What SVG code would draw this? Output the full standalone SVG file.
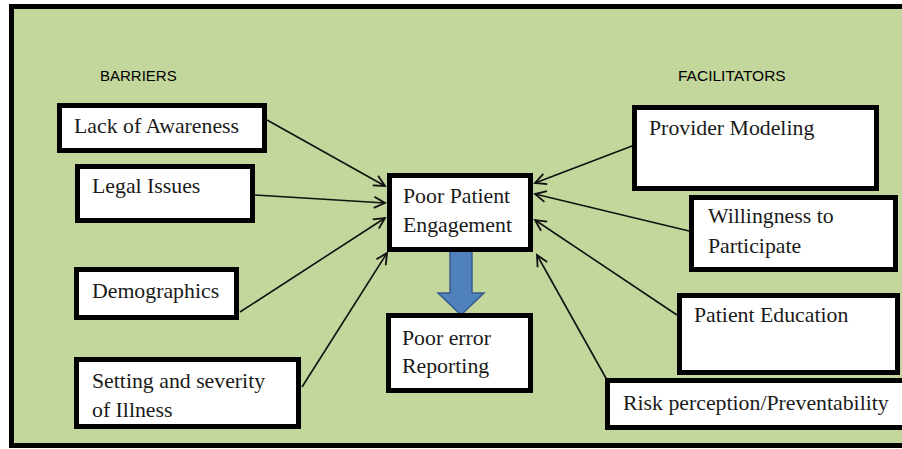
<svg xmlns="http://www.w3.org/2000/svg" width="902" height="449" viewBox="0 0 902 449">
<style>
.box{fill:#ffffff;stroke:#000000;stroke-width:5}
.lbl{font-family:"Liberation Serif","Times New Roman",serif;font-size:21.8px;fill:#1a1a1a}
.hdr{font-family:"Liberation Sans",Arial,sans-serif;font-size:15px;fill:#000000}
.con{fill:none;stroke:#111111;stroke-width:1.6}
</style>
<defs>
<marker id="arr" markerUnits="userSpaceOnUse" markerWidth="16" markerHeight="16" viewBox="-12 -8 14 16" refX="0" refY="0" orient="auto">
<path d="M-11,-5.5 L0,0 L-11,5.5" fill="none" stroke="#111111" stroke-width="1.8"/>
</marker>
</defs>
<rect x="0" y="0" width="902" height="449" fill="#ffffff"/>
<rect x="11.5" y="6.5" width="900" height="439" fill="#c3d69b" stroke="#000000" stroke-width="5"/>
<text class="hdr" x="100" y="81">BARRIERS</text>
<text class="hdr" x="678" y="81" style="font-size:15.5px">FACILITATORS</text>
<g id="connectors">
<line class="con" x1="267" y1="120" x2="385" y2="186" marker-end="url(#arr)"/>
<line class="con" x1="255" y1="195" x2="385" y2="203" marker-end="url(#arr)"/>
<line class="con" x1="240" y1="312" x2="385" y2="218" marker-end="url(#arr)"/>
<line class="con" x1="302" y1="387" x2="387" y2="253" marker-end="url(#arr)"/>
<line class="con" x1="632" y1="146" x2="535" y2="183" marker-end="url(#arr)"/>
<line class="con" x1="689" y1="231" x2="535" y2="194" marker-end="url(#arr)"/>
<line class="con" x1="677" y1="315" x2="535" y2="220" marker-end="url(#arr)"/>
<line class="con" x1="607" y1="380" x2="537" y2="255" marker-end="url(#arr)"/>
<polygon points="450,251 472,251 472,293 484,293 461,315 438,293 450,293" fill="#4f81bd" stroke="#385d8a" stroke-width="1.5"/>
</g>
<g id="lack">
<rect class="box" x="59.5" y="105.5" width="205" height="45"/>
<text class="lbl" x="74" y="133">Lack of Awareness</text>
</g>
<g id="legal">
<rect class="box" x="77.5" y="166.5" width="175" height="54"/>
<text class="lbl" x="92" y="193">Legal Issues</text>
</g>
<g id="demographics">
<rect class="box" x="76.5" y="269.5" width="160" height="48"/>
<text class="lbl" x="92" y="298">Demographics</text>
</g>
<g id="setting">
<rect class="box" x="76.5" y="359.5" width="222" height="67"/>
<text class="lbl" x="92" y="388">Setting and severity</text>
<text class="lbl" x="92" y="417">of Illness</text>
</g>
<g id="engagement">
<rect class="box" x="389.5" y="175.5" width="141" height="74"/>
<text class="lbl" x="403" y="203">Poor Patient</text>
<text class="lbl" x="403" y="232">Engagement</text>
</g>
<g id="reporting">
<rect class="box" x="388.5" y="315.5" width="142" height="75"/>
<text class="lbl" x="402" y="345">Poor error</text>
<text class="lbl" x="402" y="373">Reporting</text>
</g>
<g id="provider">
<rect class="box" x="634.5" y="107.5" width="242" height="81"/>
<text class="lbl" x="649" y="135">Provider Modeling</text>
</g>
<g id="willingness">
<rect class="box" x="691.5" y="197.5" width="204" height="72"/>
<text class="lbl" x="708" y="223">Willingness to</text>
<text class="lbl" x="708" y="253">Participate</text>
</g>
<g id="education">
<rect class="box" x="679.5" y="295.5" width="218" height="77"/>
<text class="lbl" x="694" y="322">Patient Education</text>
</g>
<g id="risk">
<rect class="box" x="607.5" y="380.5" width="300" height="47"/>
<text class="lbl" x="623" y="410">Risk perception/Preventability</text>
</g>
</svg>
